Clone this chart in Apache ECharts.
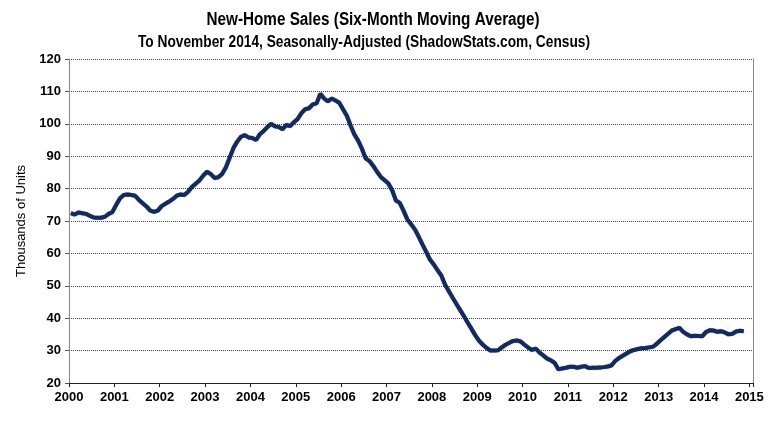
<!DOCTYPE html>
<html>
<head>
<meta charset="utf-8">
<script src="https://cdn.jsdelivr.net/npm/echarts@6/dist/echarts.min.js"></script>
<style>html,body{margin:0;padding:0;background:#fff}#c{width:781px;height:444px}</style>
</head>
<body>
<div id="c"></div>
<script>
const titleText = 'New-Home Sales (Six-Month Moving Average)';
const subtitleText = 'To November 2014, Seasonally-Adjusted (ShadowStats.com, Census)';
const yAxisName = 'Thousands of Units';
const startYear = 2000;
const yearLabels = ['2000','2001','2002','2003','2004','2005','2006','2007','2008','2009','2010','2011','2012','2013','2014','2015'];
const yTicks = [20,30,40,50,60,70,80,90,100,110,120];
// monthly six-month moving average, thousands of units, Jan 2000 .. Nov 2014
const sales2000 = [72.4,72.0,72.6,72.4,72.2,71.6,71.1,71.0,71.0,71.3,72.2,72.8];
const sales2001 = [75.0,77.0,78.0,78.2,78.0,77.8,76.5,75.5,74.5,73.2,72.8,73.2];
const sales2002 = [74.6,75.3,76.0,76.8,77.8,78.2,78.0,79.0,80.5,81.5,82.5,84.0];
const sales2003 = [85.2,84.5,83.3,83.5,84.5,86.5,89.5,92.5,94.5,96.0,96.5,95.8];
const sales2004 = [95.6,95.0,96.8,97.8,99.0,100.0,99.2,99.0,98.3,99.7,99.3,100.5];
const sales2005 = [101.5,103.3,104.5,104.8,106.0,106.3,109.3,107.8,106.9,107.8,107.2,106.5];
const sales2006 = [104.5,102.5,99.5,96.7,94.8,92.3,89.3,88.5,87.0,85.2,83.6,82.6];
const sales2007 = [81.6,79.5,76.3,75.6,73.2,70.5,69.0,67.4,65.2,62.8,60.5,58.1];
const sales2008 = [56.6,54.8,53.2,50.3,48.3,46.3,44.4,42.5,40.6,38.6,36.7,34.7];
const sales2009 = [33.0,31.8,30.8,30.0,30.0,30.1,31.0,31.8,32.4,33.0,33.1,32.8];
const sales2010 = [31.8,30.9,30.2,30.6,29.4,28.5,27.5,27.0,26.2,24.2,24.5,24.7];
const sales2011 = [25.0,25.0,24.7,25.0,25.2,24.6,24.7,24.7,24.8,24.9,25.1,25.4];
const sales2012 = [26.8,27.7,28.4,29.1,29.8,30.2,30.5,30.7,30.8,31.0,31.2,32.1];
const sales2013 = [33.2,34.2,35.2,36.2,36.6,37.0,35.8,35.0,34.4,34.6,34.5,34.4];
const sales2014 = [35.7,36.3,36.2,35.8,36.0,35.6,35.0,35.2,35.9,36.1,36.0];

const years = [sales2000,sales2001,sales2002,sales2003,sales2004,sales2005,sales2006,sales2007,
  sales2008,sales2009,sales2010,sales2011,sales2012,sales2013,sales2014];
const seriesData = [];
years.forEach((arr, yi) => arr.forEach((v, mi) => seriesData.push([startYear + yi + (mi + 0.5) / 12, v])));

const base = "'Liberation Sans',Arial,sans-serif";
const titleFont = "bold 18px " + base;
const subFont = "bold 16px " + base;
const mctx = document.createElement('canvas').getContext('2d');
function fitScale(text, font, target) { mctx.font = font; const w = mctx.measureText(text).width; return w > 0 ? target / w : 1; }
const titleScale = fitScale(titleText, titleFont, 333);
const subScale = fitScale(subtitleText, subFont, 452);

const chart = echarts.init(document.getElementById('c'), null, {renderer: 'canvas'});
chart.setOption({
  animation: false,
  backgroundColor: '#fff',
  graphic: [
    {type: 'text', x: 373, y: 20, scaleX: titleScale, style: {text: titleText, font: titleFont, fill: '#000', align: 'center', verticalAlign: 'middle'}},
    {type: 'text', x: 364, y: 43, scaleX: subScale, style: {text: subtitleText, font: subFont, fill: '#000', align: 'center', verticalAlign: 'middle'}}
  ],
  grid: {left: 69, right: 28, top: 59, bottom: 61, containLabel: false},
  xAxis: {
    type: 'value', min: 2000, max: 2015.08, interval: 1,
    axisLine: {show: true, lineStyle: {color: '#222', width: 1}},
    axisTick: {show: true, length: 4, lineStyle: {color: '#222'}},
    axisLabel: {
      margin: 8, color: '#000', fontFamily: base, fontWeight: 'bold', fontSize: 13,
      formatter: v => { const i = Math.round(v - startYear); return Math.abs(v - Math.round(v)) < 1e-6 ? (yearLabels[i] || '') : ''; }
    },
    splitLine: {show: false}
  },
  yAxis: [{
    type: 'value', min: yTicks[0], max: yTicks[yTicks.length - 1], interval: 10,
    name: yAxisName, nameLocation: 'middle', nameRotate: 90, nameGap: 38,
    nameTextStyle: {color: '#000', fontFamily: base, fontSize: 13},
    axisLine: {show: true, lineStyle: {color: '#888', width: 1}},
    axisTick: {show: true, length: 4, lineStyle: {color: '#555'}},
    axisLabel: {margin: 8, color: '#000', fontFamily: base, fontWeight: 'bold', fontSize: 13},
    splitLine: {show: true, lineStyle: {color: '#444', width: 1, type: [1, 1]}}
  }, {
    type: 'value', min: yTicks[0], max: yTicks[yTicks.length - 1], position: 'right',
    axisLine: {show: true, onZero: false, lineStyle: {color: '#888', width: 1}},
    axisTick: {show: false}, axisLabel: {show: false}, splitLine: {show: false}
  }],
  series: [{
    type: 'line', data: seriesData, showSymbol: false, smooth: false,
    lineStyle: {color: '#102a62', width: 4, shadowColor: 'rgba(0,0,20,0.6)', shadowBlur: 1},
    z: 5
  }]
});
</script>
</body>
</html>
